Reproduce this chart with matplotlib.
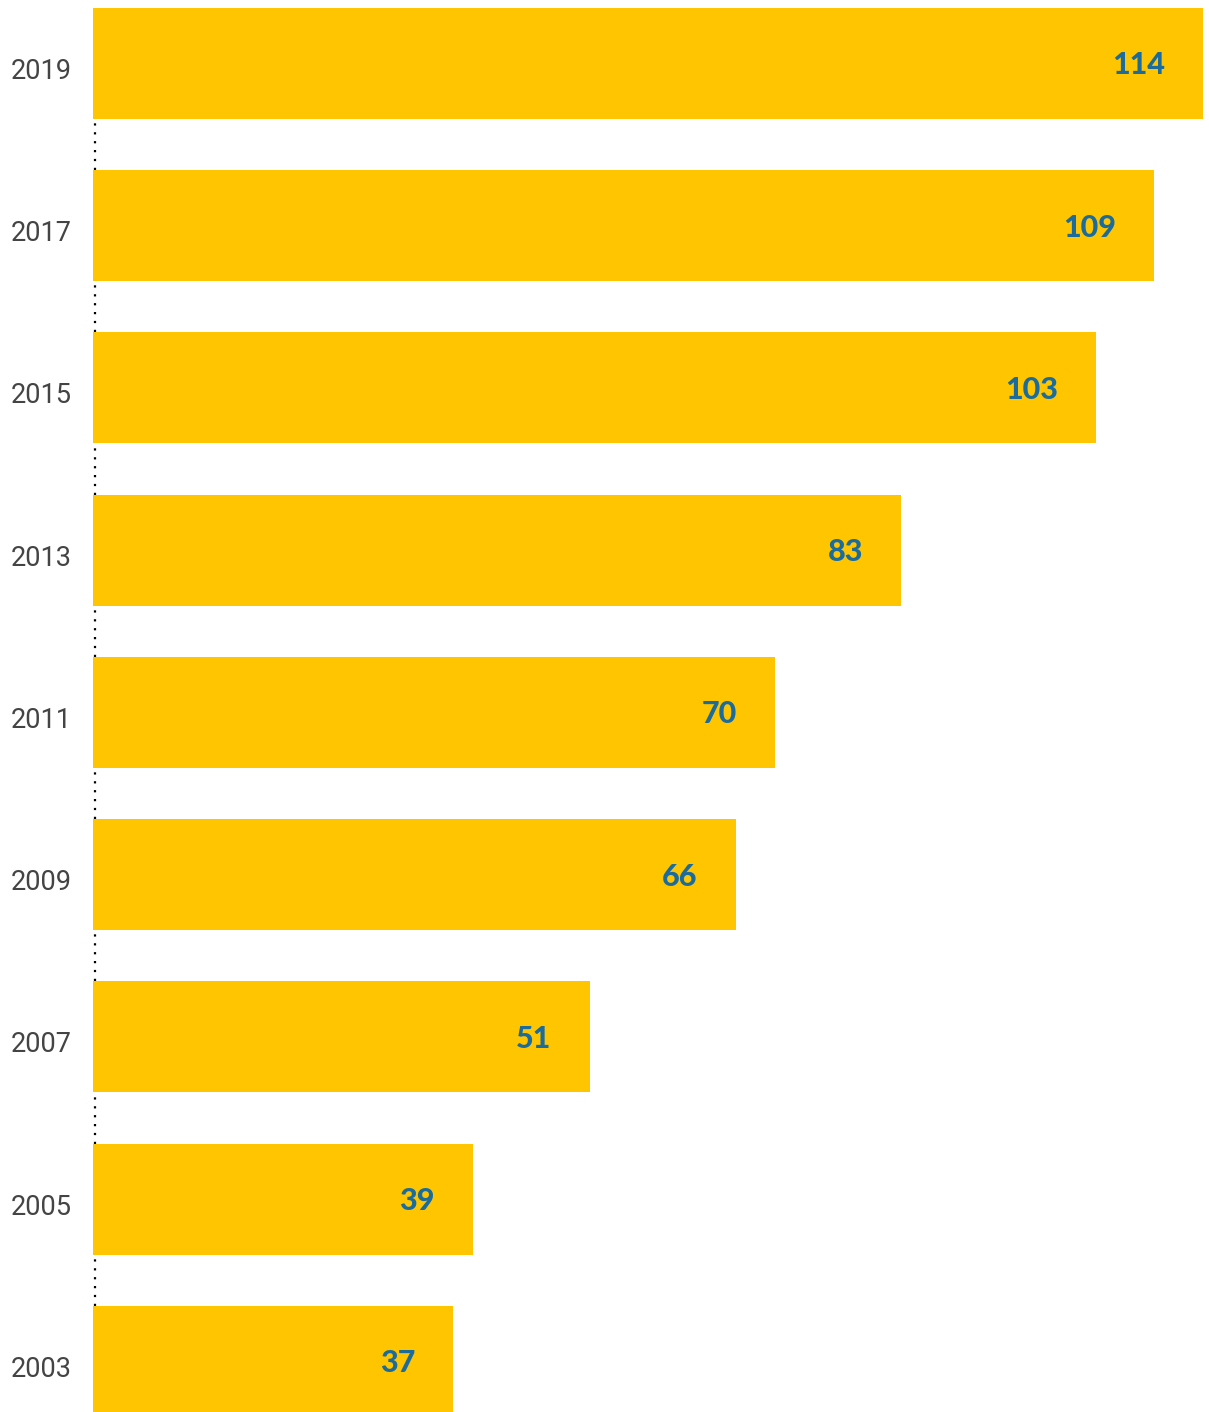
import matplotlib
matplotlib.use("Agg")
import matplotlib.pyplot as plt
from matplotlib.transforms import offset_copy

years = ["2019", "2017", "2015", "2013", "2011", "2009", "2007", "2005", "2003"]
values = [114, 109, 103, 83, 70, 66, 51, 39, 37]

BAR_COLOR = "#FFC600"
VALUE_COLOR = "#1B6C9C"
YEAR_COLOR = "#444444"

fig = plt.figure(figsize=(12.09, 14.12), dpi=100)
ax = fig.add_axes([93 / 1209, 0.0, 1 - 93 / 1209, 1.0])

n = len(years)
pos = [n - 1 - i for i in range(n)]  # top bar first
step_px = 162.25
height = 111 / step_px

ax.barh(pos, values, height=height, color=BAR_COLOR, left=0)

top = n - 1 + height / 2 + 8 / step_px
ax.set_xlim(0, max(values) * 1116 / 1110)
ax.set_ylim(top - 1412 / step_px, top)

for s in ax.spines.values():
    s.set_visible(False)
ax.set_xticks([])
ax.set_yticks([])

# dotted connector between bars along the baseline
gaps_lo = [p + height / 2 for p in pos[1:]]
gaps_hi = [p - height / 2 for p in pos[:-1]]
ax.vlines([0.2] * len(gaps_lo), gaps_lo, gaps_hi, colors="black",
          linestyles=(0, (1, 3)), linewidth=1.6)

year_tr = offset_copy(ax.transData, fig=fig, x=-21, y=-8, units="dots")
val_tr = offset_copy(ax.transData, fig=fig, x=-38, y=-2, units="dots")

for p, y, v in zip(pos, years, values):
    ax.text(0, p, y, transform=year_tr, ha="right", va="center",
            fontsize=19.5, color=YEAR_COLOR, family="Roboto", clip_on=False)
    ax.text(v, p, str(v), transform=val_tr,
            ha="right", va="center", fontsize=22, fontweight="black",
            color=VALUE_COLOR, family="Lato")

fig.savefig("out.png", dpi=100)
